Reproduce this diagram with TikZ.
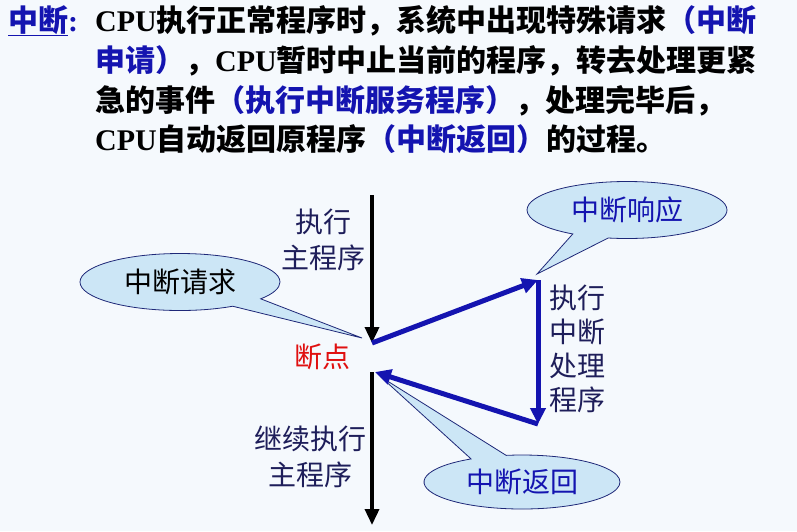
\documentclass[tikz,border=0pt]{standalone}
\usepackage{fontspec}
\setmainfont{Liberation Serif}
\newfontfamily\cjk{Noto Sans CJK SC}
\usepackage{tikz}
\usetikzlibrary{arrows.meta,positioning,shapes.callouts}
\definecolor{bgpale}{HTML}{F5F9FD}
\definecolor{intblue}{HTML}{1414B0}
\definecolor{navytext}{HTML}{1E1E5A}
\definecolor{bubblefill}{HTML}{CCE6F6}
\definecolor{bubbleline}{HTML}{1E2878}
\definecolor{bpred}{HTML}{E01010}
\newcommand{\Hb}[1]{{\cjk\bfseries #1}}
\newcommand{\Key}[1]{\textcolor{intblue}{\Hb{#1}}}

\begin{document}
\begin{tikzpicture}[
  x=1pt, y=-1pt,
  font=\fontsize{28}{36}\selectfont\cjk,
  defline/.style={anchor=base west, inner sep=0pt, font=\fontsize{30}{40}\selectfont},
  lbl/.style={text=navytext, align=center, inner sep=1pt},
  bubble/.style={ellipse callout, draw=bubbleline, line width=0.8pt, fill=bubblefill,
    minimum width=200pt, minimum height=57pt, inner sep=0pt, callout pointer arc=22},
  mainarr/.style={-{Triangle[length=16pt,width=14pt]}, line width=3.5pt, black},
  intarr/.style={-{Triangle[length=16pt,width=15pt]}, line width=5pt, intblue}
]
\fill[bgpale] (0,0) rectangle (797,531);
\useasboundingbox (0,0) rectangle (797,531);

% definition text
\node[defline, text=intblue] (term) at (8,31) {\Hb{\underline{中断}}\textbf{:}};
\node[defline] (defnA) at (95,31) {\textbf{CPU}\Hb{执行正常程序时，系统中出现特殊请求}\Key{（中断}};
\node[defline] (defnB) at (95,71) {\Key{申请）}\Hb{，}\textbf{CPU}\Hb{暂时中止当前的程序，转去处理更紧}};
\node[defline] (defnC) at (95,111) {\Hb{急的事件}\Key{（执行中断服务程序）}\Hb{，处理完毕后，}};
\node[defline] (defnD) at (95,150) {\textbf{CPU}\Hb{自动返回原程序}\Key{（中断返回）}\Hb{的过程。}};

% key points of the flow
\coordinate (mainTop) at (372,195);
\coordinate (brk) at (372,343);
\coordinate (resp) at (538,280);
\coordinate (isrEnd) at (538,424);
\coordinate (ret) at (375,372);
\coordinate (resume) at (372,372);
\coordinate (mainEnd) at (372,525);

% callouts
\node[bubble, callout absolute pointer={(362,338)}] (reqBubble) at (180,282) {中断请求};
\node[bubble, text=intblue, callout absolute pointer={(537,274)}] (respBubble) at (627,210) {中断响应};
\node[bubble, text=intblue, minimum width=196pt, minimum height=54pt,
  callout absolute pointer={(381,377)}] (retBubble) at (522,482) {中断返回};

% labels
\node[lbl] (runMain) at (323,240) {执行\\主程序};
\node[lbl, text=bpred] (brkLabel) at (322,357) {断点};
\node[lbl] (contMain) at (310,457) {继续执行\\主程序};
\node[lbl, font=\fontsize{28}{34}\selectfont\cjk] (isrLabel) at (577,349) {执行\\中断\\处理\\程序};

% arrows
\draw[mainarr] (mainTop) -- (brk);
\draw[intarr] (brk) -- (resp);
\draw[intarr] (resp) -- (isrEnd);
\draw[intarr] (isrEnd) -- (ret);
\draw[mainarr] (resume) -- (mainEnd);

\end{tikzpicture}
\end{document}
